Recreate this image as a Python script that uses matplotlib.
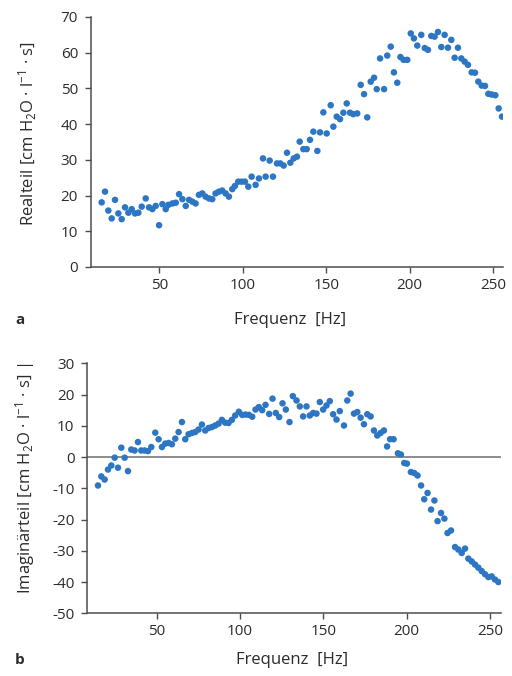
import matplotlib
matplotlib.use("Agg")
import matplotlib.pyplot as plt

plt.rcParams['font.family'] = ['Open Sans', 'DejaVu Sans']
plt.rcParams['mathtext.fontset'] = 'custom'
plt.rcParams['mathtext.rm'] = 'Open Sans'
plt.rcParams['mathtext.it'] = 'Open Sans'
plt.rcParams['mathtext.default'] = 'regular'

# Realteil der Impedanz
freq_re = [15.4, 17.4, 19.4, 21.4, 23.4, 25.4, 27.4, 29.4, 31.4, 33.4, 35.4, 37.4,
           39.4, 41.8, 43.8, 45.8, 47.8, 49.8, 51.8, 53.8, 55.4, 57.8, 59.8, 61.8,
           63.8, 65.8, 67.8, 69.8, 71.7, 73.7, 75.7, 77.7, 79.7, 81.7, 83.7, 85.7,
           87.7, 89.7, 91.7, 93.7, 95.3, 97.3, 99.3, 101.3, 103.3, 105.3, 107.7, 109.7,
           112.1, 113.7, 116.1, 118.1, 120.5, 122.5, 124.5, 126.5, 128.5, 130.5, 132.5, 134.1,
           136.3, 138.3, 140.3, 142.3, 144.7, 146.3, 148.3, 150.3, 152.7, 154.3, 156.3, 158.3,
           160.3, 162.3, 164.3, 166.2, 168.6, 170.7, 172.7, 174.6, 176.7, 178.7, 180.3, 182.3,
           184.7, 186.6, 188.7, 190.6, 192.6, 194.5, 196.4, 198.6, 200.7, 202.6, 204.6, 207.0,
           209.1, 211.0, 213.0, 215.0, 217.0, 219.0, 221.0, 223.0, 225.0, 227.0, 229.0, 231.0,
           233.0, 235.0, 237.2, 239.2, 241.2, 243.2, 245.2, 247.2, 249.2, 251.4, 253.4, 255.4]
realteil = [18.1, 21.1, 15.8, 13.6, 18.8, 15.0, 13.4, 16.7, 15.2, 16.2, 15.0, 15.2,
            16.9, 19.2, 16.7, 16.2, 17.1, 11.7, 17.6, 16.2, 17.4, 17.8, 18.0, 20.4,
            19.0, 17.1, 18.8, 18.3, 17.8, 20.2, 20.6, 19.7, 19.2, 19.0, 20.6, 21.1,
            21.4, 20.6, 19.7, 21.8, 22.7, 23.9, 23.9, 23.9, 22.5, 25.3, 23.0, 24.8,
            30.4, 25.3, 29.8, 25.3, 29.0, 29.0, 28.4, 32.0, 29.2, 30.4, 30.9, 35.1,
            33.0, 33.0, 35.6, 37.9, 32.5, 37.7, 43.3, 37.4, 45.3, 39.3, 42.1, 41.4,
            43.2, 45.8, 43.2, 42.8, 43.0, 51.0, 48.4, 41.9, 51.9, 53.0, 49.8, 58.4,
            49.8, 59.2, 61.7, 54.5, 51.6, 58.8, 58.0, 58.0, 65.4, 64.0, 62.0, 65.0,
            61.3, 60.8, 64.7, 64.5, 65.8, 61.6, 65.0, 61.4, 63.6, 58.6, 61.4, 58.4,
            57.5, 56.6, 54.5, 54.4, 51.9, 50.8, 50.7, 48.5, 48.3, 48.1, 44.4, 42.1]

# Imaginärteil der Impedanz
freq_im = [14.7, 16.7, 18.7, 20.7, 22.7, 24.7, 26.7, 28.7, 30.7, 32.7, 34.7, 36.7,
           38.7, 40.7, 42.7, 44.7, 46.7, 49.1, 51.1, 53.1, 55.1, 57.1, 59.1, 61.1,
           63.1, 65.1, 67.1, 69.1, 71.1, 73.1, 75.1, 77.1, 79.1, 81.1, 83.1, 85.1,
           87.1, 89.1, 91.1, 93.1, 95.1, 97.1, 99.3, 101.3, 103.3, 105.3, 107.3, 109.3,
           111.3, 113.3, 115.3, 117.5, 119.5, 121.5, 123.5, 125.5, 127.5, 129.7, 131.7, 133.9,
           135.9, 137.9, 139.9, 141.9, 143.9, 145.9, 147.9, 149.9, 151.9, 153.9, 155.9, 157.9,
           159.9, 162.4, 164.4, 166.4, 168.4, 170.4, 172.4, 174.4, 176.4, 178.4, 180.4, 182.4,
           184.4, 186.4, 188.3, 190.1, 192.2, 194.8, 196.6, 198.6, 200.2, 202.6, 204.6, 206.6,
           208.7, 210.6, 212.6, 214.7, 216.7, 218.6, 220.7, 222.7, 224.6, 226.7, 229.1, 231.1,
           233.1, 235.1, 237.1, 239.1, 241.1, 243.1, 245.1, 247.1, 249.1, 251.1, 253.1, 255.1]
imaginaerteil = [-9.1, -6.2, -7.2, -4.0, -2.7, -0.2, -3.4, 3.0, -0.2, -4.5, 2.4, 2.1,
                 4.8, 2.1, 2.1, 1.9, 3.2, 7.8, 5.7, 3.2, 4.3, 4.5, 4.1, 5.9,
                 8.0, 11.2, 5.7, 7.3, 7.7, 8.0, 8.8, 10.4, 8.5, 9.3, 9.6, 10.1,
                 10.7, 11.9, 11.0, 10.9, 11.9, 13.3, 14.5, 13.5, 13.6, 13.5, 12.9, 15.2,
                 16.0, 15.0, 16.7, 13.8, 18.7, 14.1, 12.8, 17.2, 15.2, 11.2, 19.5, 18.1,
                 16.2, 13.0, 16.2, 13.3, 14.1, 13.9, 17.6, 15.2, 16.5, 17.9, 13.7, 12.0,
                 14.7, 10.1, 18.1, 20.3, 13.9, 14.4, 12.6, 10.5, 13.7, 13.0, 8.5, 6.9,
                 7.7, 8.5, 3.4, 5.7, 5.7, 1.2, 0.8, -1.9, -2.1, -4.8, -5.1, -5.9,
                 -9.1, -13.5, -11.5, -16.8, -13.9, -20.5, -17.9, -19.7, -24.3, -23.5, -28.8, -29.6,
                 -30.7, -29.3, -32.5, -33.4, -34.4, -35.4, -36.5, -37.5, -38.4, -38.2, -39.2, -40.0]

x_ticks = [50, 100, 150, 200, 250]
y_ticks_re = [0, 10, 20, 30, 40, 50, 60, 70]
y_ticks_im = [-50, -40, -30, -20, -10, 0, 10, 20, 30]

dot_color = '#2c76c4'
axis_color = '#4d4d4d'
text_color = '#2b2b2b'
W, H = 512, 676

fig = plt.figure(figsize=(W / 100, H / 100), dpi=100)
ax1 = fig.add_axes([90.5 / W, 1 - 267 / H, 412.5 / W, 250 / H])
ax2 = fig.add_axes([87 / W, 1 - 613.3 / H, 414 / W, 250 / H])


def style(ax):
    for side in ('top', 'right'):
        ax.spines[side].set_visible(False)
    for side in ('left', 'bottom'):
        ax.spines[side].set_color(axis_color)
        ax.spines[side].set_linewidth(1.1)
    ax.tick_params(axis='both', direction='out', length=4, width=1.0,
                   color=axis_color, labelcolor=text_color, labelsize=11)
    ax.tick_params(axis='y', pad=5)
    ax.tick_params(axis='x', pad=4)


ax1.scatter(freq_re, realteil, s=22, color=dot_color, edgecolors='none', zorder=3)
ax1.set_xlim(8.7, 256)
ax1.set_ylim(0, 70)
ax1.set_xticks(x_ticks)
ax1.set_yticks(y_ticks_re)
style(ax1)
ax1.set_ylabel(r'Realteil [cm H$_2$O · l$^{-1}$ · s]', fontsize=12, color=text_color)
ax1.yaxis.set_label_coords(-0.125, 0.535)
ax1.set_xlabel('Frequenz  [Hz]', fontsize=12, color=text_color)
ax1.xaxis.set_label_coords(0.484, -0.18)

ax2.axhline(0, color='#6e6e6e', linewidth=1.1, zorder=1)
ax2.scatter(freq_im, imaginaerteil, s=22, color=dot_color, edgecolors='none', zorder=3)
ax2.set_xlim(8.1, 256.7)
ax2.set_ylim(-50, 30)
ax2.set_xticks(x_ticks)
ax2.set_yticks(y_ticks_im)
ax2.set_yticklabels([str(v) for v in y_ticks_im])
style(ax2)
ax2.set_ylabel(r'Imaginärteil [cm H$_2$O · l$^{-1}$ · s] |', fontsize=12, color=text_color)
ax2.yaxis.set_label_coords(-0.12, 0.54)
ax2.set_xlabel('Frequenz  [Hz]', fontsize=12, color=text_color)
ax2.xaxis.set_label_coords(0.495, -0.155)

fig.text(15 / W, 1 - 320 / H, 'a', fontsize=11, fontweight='bold', color=text_color,
         ha='left', va='center')
fig.text(15 / W, 1 - 660 / H, 'b', fontsize=11, fontweight='bold', color=text_color,
         ha='left', va='center')

fig.savefig('out.png', dpi=100)
